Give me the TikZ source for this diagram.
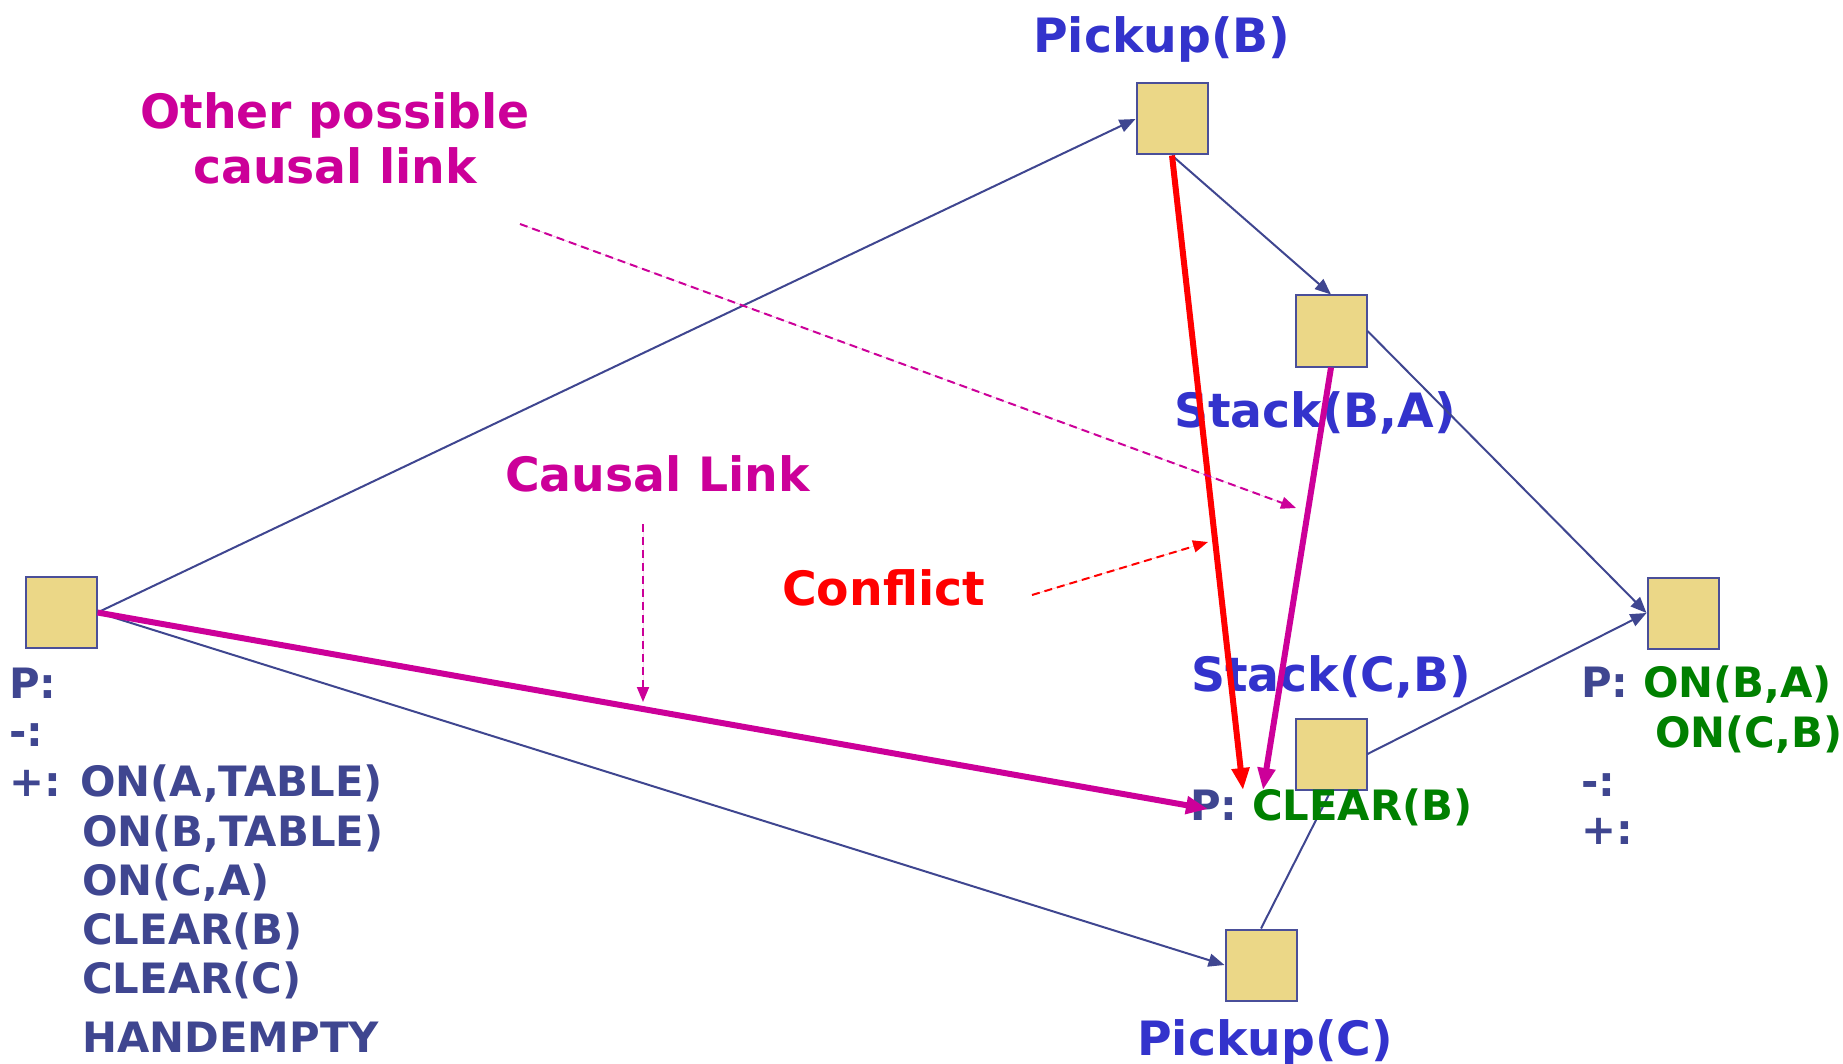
\documentclass[tikz,border=0pt]{standalone}
\usepackage{fontspec}
\setmainfont{DejaVu Sans}
\usetikzlibrary{arrows.meta}
\definecolor{boxfill}{HTML}{EBD787}
\definecolor{boxline}{HTML}{4A4F99}
\definecolor{edgec}{HTML}{3F4690}
\definecolor{labelblue}{HTML}{3333CC}
\definecolor{magen}{HTML}{CC0099}
\definecolor{redc}{HTML}{FF0000}
\definecolor{greenc}{HTML}{008000}
\tikzset{
  stepbox/.style={draw=boxline, line width=2pt, fill=boxfill, minimum width=71pt, minimum height=71pt, inner sep=0pt},
  bigtext/.style={inner sep=0pt, font=\fontsize{47.3}{56}\selectfont\bfseries},
  ptext/.style={inner sep=0pt, anchor=base west, text=edgec, font=\fontsize{41.8}{50}\selectfont\bfseries},
  thinedge/.style={draw=edgec, line width=2pt, -{Triangle[length=16pt,width=13pt]}},
  thickred/.style={draw=redc, line width=6pt, -{Triangle[length=22pt,width=17pt]}},
  thickmag/.style={draw=magen, line width=6pt, -{Triangle[length=22pt,width=17pt]}},
  dasharrow/.style={line width=2pt, dash pattern=on 8pt off 5pt, -{Triangle[length=15pt,width=12pt]}}
}
\begin{document}
\begin{tikzpicture}[x=1pt,y=-1pt]
\useasboundingbox (0,0) rectangle (1843,1064);
% boxes
\node[stepbox] (start) at (61,612.5) {};
\node[stepbox] (pickB) at (1172,119) {};
\node[stepbox] (stackBA) at (1331,331) {};
\node[stepbox] (stackCB) at (1331,754) {};
\node[stepbox] (pickC) at (1261,965) {};
\node[stepbox] (goal) at (1683,613) {};
% line under text
\draw[draw=edgec, line width=2pt] (pickC.north) -- (stackCB.south);
% labels
\node[bigtext, text=labelblue, anchor=base west] (lpickB) at (1033,53) {Pickup(B)};
\node[bigtext, text=labelblue, anchor=base west] (lstackBA) at (1174,427) {Stack(B,A)};
\node[bigtext, text=labelblue, anchor=base west] (lstackCB) at (1191,691) {Stack(C,B)};
\node[bigtext, text=labelblue, anchor=base west] (lpickC) at (1137,1055) {Pickup(C)};
\node[bigtext, text=magen, anchor=base] (lother1) at (335,129) {Other possible};
\node[bigtext, text=magen, anchor=base] (lother2) at (335,184) {causal link};
\node[bigtext, text=magen, anchor=base west] (lcausal) at (505,491) {Causal Link};
\node[bigtext, text=redc, anchor=base west] (lconflict) at (782,605) {Conflict};
% precondition / effect texts
\node[ptext] (s1) at (9,698) {P:};
\node[ptext] (s2) at (9,746) {-:};
\node[ptext] (s3) at (9,796) {+: ON(A,TABLE)};
\node[ptext] (s4) at (82,846) {ON(B,TABLE)};
\node[ptext] (s5) at (82,895) {ON(C,A)};
\node[ptext] (s6) at (82,944) {CLEAR(B)};
\node[ptext] (s7) at (82,993) {CLEAR(C)};
\node[ptext] (s8) at (82,1052) {HANDEMPTY};
\node[ptext] (g1) at (1581,697) {P: \textcolor{greenc}{ON(B,A)}};
\node[ptext, text=greenc] (g2) at (1655,747) {ON(C,B)};
\node[ptext] (g3) at (1581,796) {-:};
\node[ptext] (g4) at (1581,844) {+:};
\node[ptext] (pc) at (1190,820) {P: \textcolor{greenc}{CLEAR(B)}};
% coordinates
\coordinate (redtip) at (1243,790);
\coordinate (magtip) at (1263,790);
\coordinate (cltip) at (1208,809);
\coordinate (c1) at (643,524);
\coordinate (c2) at (643,702);
\coordinate (f1) at (1032,595);
\coordinate (f2) at (1208,542);
\coordinate (o1) at (520,224);
\coordinate (o2) at (1296,508);
% thin edges
\draw[thinedge] (start.east) -- (pickB.west);
\draw[thinedge] (start.east) -- (pickC.west);
\draw[thinedge] (pickB.south) -- (stackBA.north);
\draw[thinedge] (stackBA.east) -- (goal.west);
\draw[thinedge] (stackCB.east) -- (goal.west);
% thick links
\draw[thickmag] (start.east) -- (cltip);
\draw[thickred] (pickB.south) -- (redtip);
\draw[thickmag] (stackBA.south) -- (magtip);
% dashed pointers
\draw[dasharrow, draw=magen, fill=magen] (c1) -- (c2);
\draw[dasharrow, draw=redc, fill=redc] (f1) -- (f2);
\draw[dasharrow, draw=magen, fill=magen] (o1) -- (o2);
\end{tikzpicture}
\end{document}
